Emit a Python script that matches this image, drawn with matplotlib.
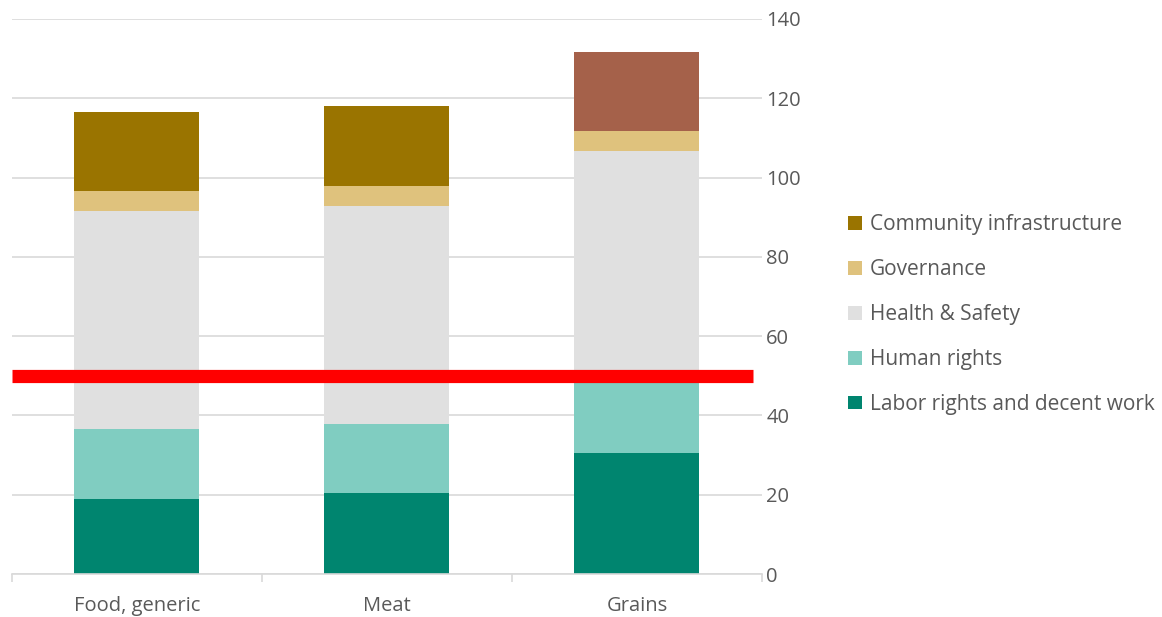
import matplotlib
matplotlib.use("Agg")
import matplotlib.pyplot as plt
from matplotlib.patches import Patch
import numpy as np

categories = ["Food, generic", "Meat", "Grains"]
series_names = ["Labor rights and decent work", "Human rights", "Health & Safety",
                "Governance", "Community infrastructure"]
labor = [19, 20.4, 30.5]
human = [17.6, 17.4, 19.0]
health = [55, 55, 57.2]
governance = [5, 5, 5]
community = [20, 20.3, 20.1]
threshold = 50
yticks = [0, 20, 40, 60, 80, 100, 120, 140]

colors = ["#00856F", "#80CDC1", "#E0E0E0", "#DFC27D", "#9A7400"]
grains_top_color = "#A5614A"

plt.rcParams['font.family'] = ['Open Sans', 'DejaVu Sans']
fig = plt.figure(figsize=(11.62, 6.17), dpi=100)
ax = fig.add_axes([12/1162, 1-574/617, 750/1162, 555/617])

x = np.arange(len(categories))
bottom = np.zeros(len(categories))
data = [labor, human, health, governance, community]
for i, vals in enumerate(data):
    cols = [colors[i]] * len(categories)
    if i == 4:
        cols[2] = grains_top_color
    ax.bar(x, vals, width=0.5, bottom=bottom, color=cols, zorder=2)
    bottom += np.array(vals)

ax.axhline(threshold, xmin=0, xmax=741/750, color="#FF0000", linewidth=9.5,
           solid_capstyle='butt', zorder=3)

ax.set_xlim(-0.5, 2.5)
ax.set_ylim(0, 140)
ax.set_yticks(yticks)
ax.yaxis.tick_right()
ax.grid(axis='y', color="#D9D9D9", linewidth=1.2, zorder=0)
for s in ["top", "left", "right"]:
    ax.spines[s].set_visible(False)
ax.spines["bottom"].set_color("#D9D9D9")
ax.spines["bottom"].set_linewidth(1.2)
ax.tick_params(axis='y', length=0, pad=3, labelsize=14.5, labelcolor="#595959")
ax.set_xticks(x)
ax.set_xticklabels(categories)
ax.set_xticks([-0.5, 0.5, 1.5, 2.5], minor=True)
ax.tick_params(axis='x', which='major', length=0, pad=16, labelsize=14.5, labelcolor="#595959")
ax.tick_params(axis='x', which='minor', length=6, color="#D9D9D9", width=1.2)

handles = [Patch(facecolor=colors[i], label=series_names[i]) for i in range(4, -1, -1)]
leg = fig.legend(handles=handles, loc="upper left", bbox_to_anchor=(848/1162, 1-214/617),
                 frameon=False, fontsize=15, handlelength=0.65, handleheight=0.65,
                 handletextpad=0.4, labelspacing=1.15, labelcolor="#595959",
                 borderaxespad=0, borderpad=0)

fig.savefig("out.png", dpi=100)
